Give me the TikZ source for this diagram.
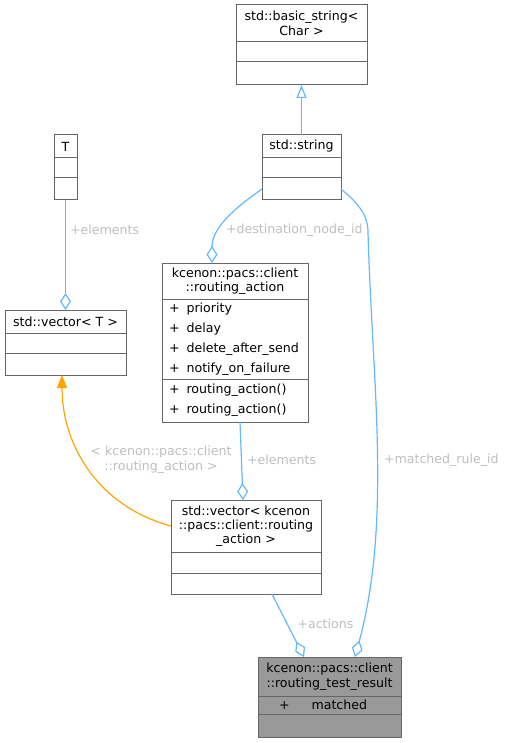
\documentclass[tikz,border=0pt]{standalone}
\usepackage{fontspec}
\setmainfont{DejaVu Sans}
\usetikzlibrary{positioning,shapes,arrows.meta}

\definecolor{edgeblue}{HTML}{63B8FF}
\definecolor{lblgray}{HTML}{BEBEBE}
\definecolor{boxgray}{HTML}{666666}
\definecolor{focusgray}{HTML}{999999}
\definecolor{tmplorange}{HTML}{FFA500}

\begin{document}
\begin{tikzpicture}[x=1pt,y=-1pt,line width=1pt,
	every node/.style={font=\fontsize{12.6}{14.5}\selectfont, outer sep=0pt, inner sep=0pt},
	part/.style={draw=boxgray, fill=white, anchor=north, align=center},
	rows/.style={part, align=left, inner xsep=7pt, font=\fontsize{12.6}{20}\selectfont},
	lbl/.style={text=lblgray, font=\fontsize{12.6}{15}\selectfont},
	member/.style={draw=edgeblue, line width=1.2pt, -{Diamond[fill=white,length=17pt,width=11pt]}},
	inherit/.style={draw=edgeblue, line width=1.2pt, -{Triangle[fill=white,length=13pt,width=10pt]}},
	tmpl/.style={draw=tmplorange, line width=1.2pt, -{Triangle[fill=tmplorange,length=13pt,width=10pt]}}]

		\useasboundingbox (0,0) rectangle (509,743);

		%the string classes
		\node[part, minimum width=131, minimum height=37] (bs) at (301.5,5) {std::basic\_string<\\Char >};
		\node[part, minimum width=131, minimum height=20, below=0pt of bs] (bs1) {};
		\node[part, minimum width=131, minimum height=23, below=0pt of bs1] (bs2) {};

		\node[part, minimum width=79, minimum height=23] (str) at (301.5,135) {std::string};
		\node[part, minimum width=79, minimum height=20, below=0pt of str] (str1) {};
		\node[part, minimum width=79, minimum height=22, below=0pt of str1] (str2) {};

		%the template and the vector
		\node[part, minimum width=23, minimum height=23] (t) at (65.5,135) {T};
		\node[part, minimum width=23, minimum height=20, below=0pt of t] (t1) {};
		\node[part, minimum width=23, minimum height=22, below=0pt of t1] (t2) {};

		\node[part, minimum width=121, minimum height=23] (vt) at (65.5,310) {std::vector< T >};
		\node[part, minimum width=121, minimum height=20, below=0pt of vt] (vt1) {};
		\node[part, minimum width=121, minimum height=22, below=0pt of vt1] (vt2) {};

		%the routing action
		\node[part, minimum width=146, minimum height=36] (ra) at (235,263) {kcenon::pacs::client\\::routing\_action};
		\node[rows, text width=132pt, minimum height=80, below=0pt of ra] (ra1) {+\hspace{7pt}priority\\+\hspace{7pt}delay\\+\hspace{7pt}delete\_after\_send\\+\hspace{7pt}notify\_on\_failure};
		\node[rows, text width=132pt, minimum height=43, below=0pt of ra1] (ra2) {+\hspace{7pt}routing\_action()\\+\hspace{7pt}routing\_action()};

		\node[part, minimum width=150, minimum height=52, font=\fontsize{12.6}{14}\selectfont] (vra) at (246,500) {std::vector< kcenon\\::pacs::client::routing\\\_action >};
		\node[part, minimum width=150, minimum height=21, below=0pt of vra] (vra1) {};
		\node[part, minimum width=150, minimum height=21, below=0pt of vra1] (vra2) {};

		%the test result
		\node[part, fill=focusgray, minimum width=143, minimum height=39] (rtr) at (329.5,657) {kcenon::pacs::client\\::routing\_test\_result};
		\node[rows, fill=focusgray, text width=101pt, inner xsep=21pt, minimum height=18, below=0pt of rtr] (rtr1) {+\hspace{22pt}matched};
		\node[part, fill=focusgray, minimum width=143, minimum height=23, below=0pt of rtr1] (rtr2) {};

		%the connectors
		\draw[inherit] (str.north) -- (bs2.south);
		\draw[member] (t2.south) -- (vt.north);
		\draw[member] (str2.west) to[out=215,in=90] ([xshift=-23pt]ra.north);
		\draw[member] (str2.east) .. controls (358,203) and (368,215) .. (368,232)
			.. controls (372,380) and (392,520) .. ([xshift=25.5pt]rtr.north);
		\draw[member] ([xshift=5pt]ra2.south) -- ([xshift=-3pt]vra.north);
		\draw[member] ([xshift=26pt]vra2.south) -- ([xshift=-25.5pt]rtr.north);
		\draw[tmpl] (vra.west) to[out=165,in=-90] ([xshift=-3.5pt]vt2.south);

		%the labels
		\node[lbl, anchor=west] (lelem) at (70,230) {+elements};
		\node[lbl, anchor=west] (ldest) at (226,230) {+destination\_node\_id};
		\node[lbl, anchor=west] (lrule) at (384,460) {+matched\_rule\_id};
		\node[lbl, anchor=west] (lraelem) at (247,460) {+elements};
		\node[lbl, align=center] (ltmpl) at (161,459.5) {< kcenon::pacs::client\\::routing\_action >};
		\node[lbl, anchor=west] (lact) at (297.5,624) {+actions};

	\end{tikzpicture}
\end{document}
